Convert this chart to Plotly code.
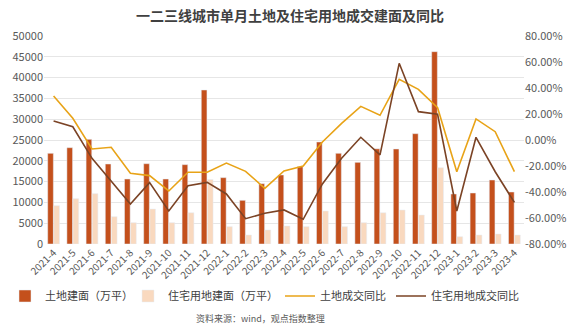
import plotly.graph_objects as go

months = ["2021-4","2021-5","2021-6","2021-7","2021-8","2021-9","2021-10","2021-11","2021-12",
          "2022-1","2022-2","2022-3","2022-4","2022-5","2022-6","2022-7","2022-8","2022-9","2022-10","2022-11","2022-12",
          "2023-1","2023-2","2023-3","2023-4"]
land_area = [21800, 23150, 25160, 19230, 15620, 19300, 15620, 19070, 37020,
             15950, 10500, 14500, 16590, 18590, 24520, 21800, 19630, 22880, 22840, 26520, 46230,
             12020, 12260, 15380, 12500]
res_area = [9210, 10900, 12100, 6570, 5130, 8410, 5130, 7520, 15500,
            4170, 2160, 3370, 4330, 4170, 7930, 4170, 5130, 7520, 8170, 6970, 18340,
            1760, 2160, 2400, 2160]
land_yoy = [33.8, 16.7, -6.9, -5.6, -25.6, -27.4, -39.2, -24.8, -24.8,
            -17.7, -24.1, -37.2, -23.8, -20.0, -1.5, 12.8, 25.9, 19.0, 46.7, 39.0, 24.8,
            -24.4, 16.2, 6.4, -24.4]
res_yoy = [14.6, 10.2, -14.1, -31.3, -49.2, -32.8, -54.6, -35.2, -32.6,
           -41.5, -60.5, -56.4, -53.8, -61.0, -33.8, -14.1, 2.1, -11.5, 59.0, 21.8, 19.8,
           -54.6, 2.1, -24.4, -48.0]
right_ticks = [-80, -60, -40, -20, 0, 20, 40, 60, 80]

FONT = "Noto Sans CJK SC"
fig = go.Figure()
fig.add_trace(go.Bar(x=months, y=land_area, name="土地建面（万平）", marker_color="#C4501C",
                     legend="legend", showlegend=True))
fig.add_trace(go.Bar(x=months, y=res_area, name="住宅用地建面（万平）", marker_color="#F9D9BF",
                     legend="legend2", showlegend=True))
fig.add_trace(go.Scatter(x=months, y=land_yoy, name="土地成交同比", yaxis="y2", mode="lines",
                         line=dict(color="#E8A317", width=1.6), legend="legend3", showlegend=True))
fig.add_trace(go.Scatter(x=months, y=res_yoy, name="住宅用地成交同比", yaxis="y2", mode="lines",
                         line=dict(color="#7B4325", width=1.6), legend="legend4", showlegend=True))

def leg(xpix):
    return dict(orientation="h", xref="container", x=xpix / 580, xanchor="left",
                yref="container", y=1 - 296 / 326, yanchor="middle", visible=True,
                font=dict(size=11, color="#404040"), itemwidth=30, bgcolor="rgba(0,0,0,0)")

fig.update_layout(
    width=580, height=326, showlegend=True,
    margin=dict(l=44, r=56, t=36, b=82, autoexpand=False),
    paper_bgcolor="white", plot_bgcolor="white",
    font=dict(family=FONT, size=10, color="#595959"),
    title=dict(text="一二三线城市单月土地及住宅用地成交建面及同比", x=0.5, xanchor="center",
               y=0.95, yanchor="middle", font=dict(size=14, color="#404040", family=FONT, weight="bold")),
    barmode="group", bargap=0.36, bargroupgap=0.08,
    xaxis=dict(type="category", tickangle=-45, tickfont=dict(size=10), showgrid=False,
               showline=False, ticks="", automargin=False),
    yaxis=dict(range=[0, 50000], dtick=5000, tickformat="d", gridcolor="#E6E6E6", gridwidth=1,
               zeroline=False, showline=False, tickfont=dict(size=11), ticks="", automargin=False),
    yaxis2=dict(range=[-80, 80], overlaying="y", side="right", tickvals=right_ticks,
                ticktext=["%.2f%%" % v for v in right_ticks], showgrid=False, zeroline=False,
                tickfont=dict(size=11), ticks="", automargin=False),
    legend=leg(5), legend2=leg(128), legend3=leg(280), legend4=leg(391),
    annotations=[dict(text="资料来源：wind，观点指数整理", xref="paper", yref="paper",
                      x=0.452, y=-0.356, xanchor="center", yanchor="middle", showarrow=False,
                      font=dict(size=9, color="#595959"))],
)
fig.write_html("out.html")
